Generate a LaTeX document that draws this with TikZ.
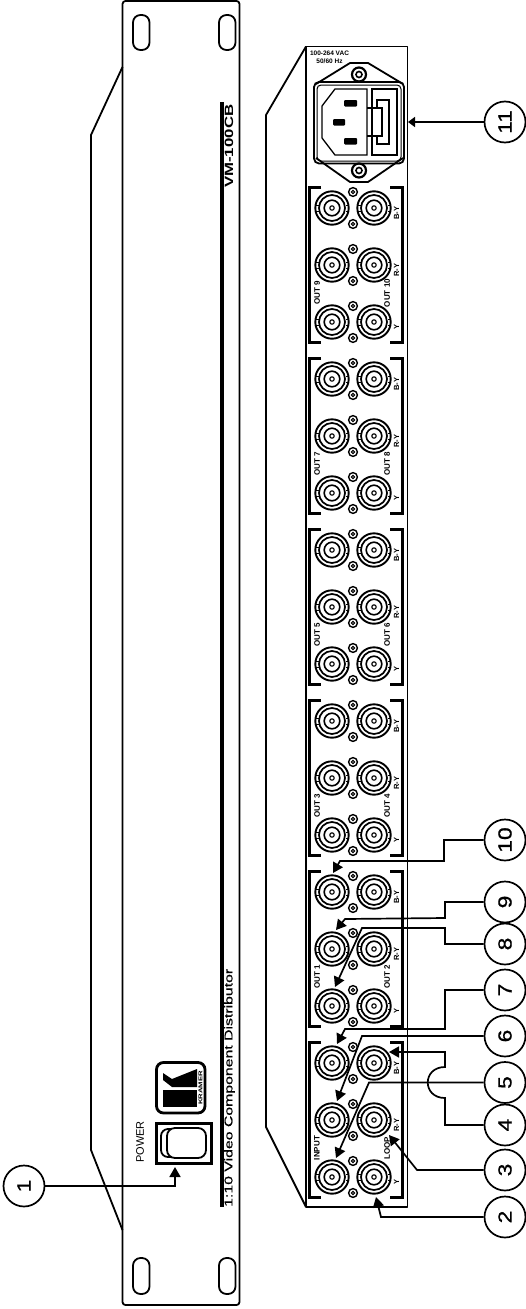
\documentclass[tikz,border=0pt]{standalone}
\usepackage{fontspec}
\setmainfont{Liberation Sans}
\newfontfamily\widefont[FakeStretch=1.4]{Liberation Sans}
\newfontfamily\titlefont[FakeStretch=1.4,FakeBold=.5]{Liberation Sans}
\newfontfamily\numfont[FakeStretch=1.2,FakeBold=.9]{Liberation Sans}
\usetikzlibrary{arrows.meta}
\tikzset{
  panel/.style={line width=1.8pt,line join=round},
  thin line/.style={line width=1.1pt},
  numc/.style={circle,draw,line width=1.7pt,minimum size=41pt,inner sep=0pt,rotate=90,
    font=\numfont\fontsize{19}{19}\selectfont},
  leader/.style={line width=1.7pt,line join=miter,-{Triangle[length=10pt,width=11pt]}},
  lbl/.style={rotate=90,inner sep=0pt,font=\bfseries\fontsize{7.5}{8}\selectfont},
  outlbl/.style={rotate=90,inner sep=0pt,font=\bfseries\fontsize{8}{8}\selectfont},
  hlbl/.style={inner sep=0pt,font=\bfseries\fontsize{6.5}{7}\selectfont},
  bracket/.style={line width=3pt,line join=miter},
  bnc/.pic={
    \draw[line width=1.9pt] (0,0) circle (16.7);
    \draw[line width=1.7pt] (0,0) circle (13);
    \draw[line width=1.6pt] (0,0) circle (7.8);
    \draw[line width=1.1pt] (0,0) circle (2.2);
    \draw[line width=.8pt] (-17,-3) -- (-13.5,-3) (-17,3) -- (-13.5,3);
    \draw[line width=.8pt] (17,-3) -- (13.5,-3) (17,3) -- (13.5,3);
  },
  stud/.pic={
    \draw[line width=1.4pt] (0,0) circle (4.4);
    \draw[line width=1.1pt] (0,0) circle (1.6);
  }
}
\begin{document}
\begin{tikzpicture}[x=1pt,y=-1pt]
\useasboundingbox (0,0) rectangle (526,1309);

% front panel
\draw[panel,rounded corners=3] (122.5,1) rectangle (239.5,1305);
\draw[panel] (122.5,67) -- (91,135) -- (91,1150) -- (122.5,1230);
\draw[panel,rounded corners=7.5] (133,15) rectangle (149.5,50);
\draw[panel,rounded corners=7.5] (219,15) rectangle (235.5,50);
\draw[panel,rounded corners=7.5] (133,1258) rectangle (149.5,1294);
\draw[panel,rounded corners=7.5] (219,1258) rectangle (235.5,1294);
\fill (219.5,102) rectangle (223.5,1207);
\node[rotate=90,anchor=west,inner sep=0pt,font=\widefont\bfseries\fontsize{12}{12}\selectfont] (model) at (229,188) {VM-100CB};
\node[rotate=90,anchor=west,inner sep=0pt,font=\titlefont\fontsize{11.3}{12}\selectfont] (title) at (229.5,1207) {1:10 Video Component Distributor};
\node[rotate=90,anchor=west,inner sep=0pt,font=\fontsize{11}{11}\selectfont] (power) at (140,1163) {POWER};

% power switch
\draw[line width=3pt] (156,1123) rectangle (211,1163);
\draw[panel,rounded corners=7] (161,1129) rectangle (190,1157);
\filldraw[panel,fill=white,rounded corners=8] (167,1128) rectangle (206,1158);

% logo
\draw[line width=2.8pt,rounded corners=7] (156.5,1062.5) rectangle (205,1113);
\fill (163,1090) rectangle (197,1107);
\fill (163,1073) -- (172,1079) -- (197,1069) -- (197,1087) -- (172,1087) -- (163,1080) -- cycle;
\node[rotate=90,inner sep=0pt,font=\widefont\bfseries\fontsize{5.5}{6}\selectfont] (kramer) at (200.5,1088) {KRAMER};

% rear panel
\draw[panel] (306,46.5) rectangle (407.5,1207);
\draw[panel] (306,46.5) -- (266,115) -- (266,1127) -- (306,1207);

% connector rows
\foreach \ry in {208,265,322,379,436,493,550,607,664,721,778,835,892,949,1006,1063,1120,1177}{
  \pic at (332,\ry) {bnc};
  \pic at (374,\ry) {bnc};
  \pic at (353,\ry-16) {stud};
  \pic at (353,\ry+16) {stud};
}

% groups
\foreach \gy/\la/\lb in {208/OUT 9/OUT 10,379/OUT 7/OUT 8,550/OUT 5/OUT 6,721/OUT 3/OUT 4,892/OUT 1/OUT 2,1063/INPUT/LOOP}{
  \draw[bracket] (321,\gy-21) -- (309.5,\gy-21) -- (309.5,\gy+134) -- (321,\gy+134);
  \draw[bracket] (390,\gy-21) -- (402.5,\gy-21) -- (402.5,\gy+134) -- (390,\gy+134);
  \node[lbl] (by\gy) at (396.5,\gy+5) {B-Y};
  \node[lbl] (ry\gy) at (396.5,\gy+62) {R-Y};
  \node[lbl] (yy\gy) at (396.5,\gy+119) {Y};
  \node[outlbl] (la\gy) at (317,\gy+85) {\la};
  \node[outlbl] (lb\gy) at (387,\gy+85) {\lb};
}

% power inlet
\node[hlbl] (vac) at (329.5,53.5) {100-264 VAC};
\node[hlbl] (hz) at (329.5,61.5) {50/60 Hz};
\draw[panel] (316,84) -- (350,63) -- (368,63) -- (403,84);
\draw[panel] (316,158) -- (350,182) -- (368,182) -- (403,158);
\draw[line width=1.8pt,rounded corners=5] (314,82) rectangle (404,163.5);
\draw[line width=1pt,rounded corners=4] (317,85) rectangle (401,161);
\draw[line width=2.2pt] (359,74.5) circle (7);
\draw[line width=1.6pt] (359,74.5) circle (3);
\draw[line width=2.2pt] (359,170.5) circle (7);
\draw[line width=1.6pt] (359,170.5) circle (3);
\draw[line width=1.3pt] (367,89) -- (335,89) -- (322,106) -- (322,138) -- (335,155) -- (367,155) -- cycle;
\fill[rounded corners=1] (344,100) rectangle (357,106.5);
\fill[rounded corners=1] (333,119) rectangle (345,125.5);
\fill[rounded corners=1] (344,138) rectangle (357,144.5);
\draw[line width=1.3pt] (372,89) rectangle (397,155);
\draw[thin line] (367,108) -- (377,108) (367,136) -- (377,136);
\draw[line width=1.3pt] (377,100) -- (389,100) -- (389,144) -- (377,144) -- (377,136) -- (382,136) -- (382,108) -- (377,108) -- cycle;

% callouts
\node[numc] (c1) at (24,1186) {1};
\node[numc] (c2) at (505,1217) {2};
\node[numc] (c3) at (505,1170) {3};
\node[numc] (c4) at (505,1125) {4};
\node[numc] (c5) at (505,1082.5) {5};
\node[numc] (c6) at (505,1036) {6};
\node[numc] (c7) at (505,990) {7};
\node[numc] (c8) at (505,944) {8};
\node[numc] (c9) at (505,902) {9};
\node[numc] (c10) at (505,840) {10};
\node[numc] (c11) at (505,122) {11};

\coordinate (t1) at (175,1167);
\coordinate (t2) at (376,1197);
\coordinate (t3) at (389,1135);
\coordinate (t4) at (389,1052);
\coordinate (t5) at (336,1158);
\coordinate (t6) at (337,1101);
\coordinate (t7) at (337,1044);
\coordinate (t8) at (335,987);
\coordinate (t9) at (336,930);
\coordinate (t10) at (333,873);
\coordinate (t11) at (408,122);

\draw[leader] (c1) -- (175,1186) -- (t1);
\draw[leader] (c2) -- (381,1217) -- (t2);
\draw[leader] (c3) -- (417,1170) -- (t3);
\draw[leader] (c4) -- (445,1125) -- (445,1098) .. controls (422,1098) and (422,1067) .. (445,1067) -- (445,1052) -- (t4);
\draw[leader] (c5) -- (369,1082.5) -- (t5);
\draw[leader] (c6) -- (362,1036) -- (t6);
\draw[leader] (c7) -- (445,990) -- (445,1029) -- (345,1029) -- (t7);
\draw[leader] (c8) -- (445,944) -- (445,928) -- (362,928) -- (t8);
\draw[leader] (c9) -- (445,902) -- (445,918) -- (345,919) -- (t9);
\draw[leader] (c10) -- (444,840) -- (444,861) -- (340,861) -- (t10);
\draw[leader,-{Triangle[length=7pt,width=10pt]}] (c11) -- (t11);
\end{tikzpicture}
\end{document}
